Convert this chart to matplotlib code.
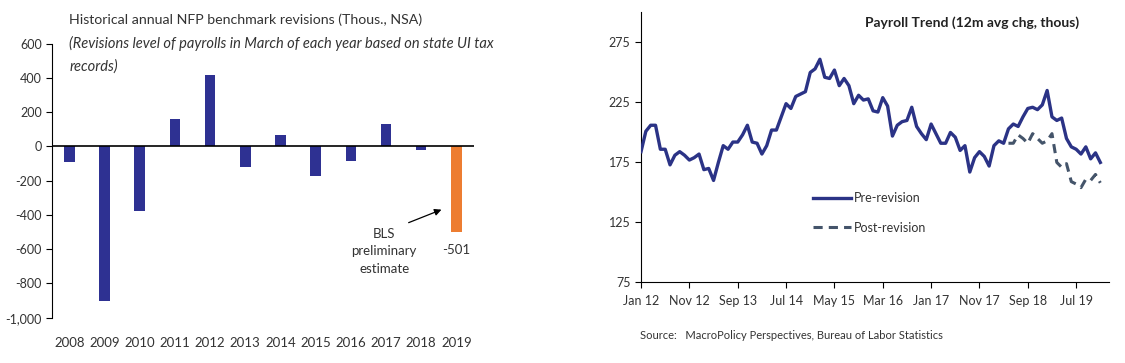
import matplotlib
matplotlib.use("Agg")
import matplotlib.pyplot as plt

plt.rcParams['font.family'] = ['Lato', 'DejaVu Sans']

# left panel: annual benchmark revisions (thous., NSA)
years = ['2008', '2009', '2010', '2011', '2012', '2013',
         '2014', '2015', '2016', '2017', '2018', '2019']
revisions = [-90, -902, -378, 162, 420, -120, 64, -171, -83, 133, -18, -501]

# right panel: 12m avg payroll change, Jan 12 .. Dec 19
pre_revision = [
    184, 201, 206, 206, 186, 186, 173, 181, 184, 181, 177, 179,
    182, 169, 170, 160, 175, 189, 186, 192, 192, 198, 206, 192,
    191, 182, 189, 202, 202, 213, 224, 220, 230, 232, 234, 250,
    253, 261, 246, 245, 252, 239, 245, 239, 224, 231, 227, 228,
    218, 217, 229, 222, 197, 206, 209, 210, 221, 205, 199, 194,
    207, 199, 191, 191, 200, 196, 185, 189, 167, 179, 184, 180,
    172, 189, 193, 191, 203, 207, 205, 213, 220, 221, 219, 223,
    235, 213, 210, 212, 195, 188, 186, 182, 188, 178, 183, 175,
]
post_start = 76
post_revision = [191, 191, 198, 195, 191, 199, 195, 191, 193, 199,
                 175, 171, 174, 159, 157, 154, 161, 160, 165, 158]
month_labels = ['Jan 12', 'Nov 12', 'Sep 13', 'Jul 14', 'May 15',
                'Mar 16', 'Jan 17', 'Nov 17', 'Sep 18', 'Jul 19']

txt = '#333333'
navy = '#2E3192'
orange = '#ED7D31'

fig = plt.figure(figsize=(11.25, 3.63), dpi=100)

# ---- left chart
ax1 = fig.add_axes([0.046, 0.1248, 0.3753, 0.7548])
xs = list(range(len(years)))
colors = [navy] * (len(years) - 1) + [orange]
ax1.bar(xs, revisions, width=0.3, color=colors, zorder=2)
ax1.axhline(0, color='black', lw=1.2, zorder=3)
ax1.set_xlim(-0.5, 11.5)
ax1.set_ylim(-1000, 600)
ax1.set_yticks(range(-1000, 601, 200))
ax1.set_yticklabels([f'{v:,}' for v in range(-1000, 601, 200)])
ax1.set_xticks(xs)
ax1.set_xticklabels(years)
for s in ['top', 'right', 'bottom']:
    ax1.spines[s].set_visible(False)
ax1.spines['left'].set_color('black')
ax1.tick_params(axis='y', direction='out', length=4, pad=3, labelsize=9, colors=txt)
ax1.tick_params(axis='y', color='black')
ax1.tick_params(axis='x', length=0, pad=14, labelsize=9.5, labelcolor=txt)

ax1.text(xs[-1], -607, '-501', ha='center', va='center', fontsize=9.5, color=txt)
ax1.annotate('', xy=(10.65, -363), xytext=(9.57, -451),
             arrowprops=dict(arrowstyle='-|>', color='black', lw=0.9,
                             mutation_scale=10))
ax1.text(8.95, -612, 'BLS\npreliminary\nestimate', ha='center', va='center',
         fontsize=9.5, color=txt, linespacing=1.55)

fig.text(0.0615, 0.9468, 'Historical annual NFP benchmark revisions (Thous., NSA)',
         fontsize=10.2, color=txt, va='center')
fig.text(0.0615, 0.8807,
         '(Revisions level of payrolls in March of each year based on state UI tax',
         fontsize=10.5, color=txt, va='center', style='italic')
fig.text(0.0615, 0.8164, 'records)', fontsize=10.5, color=txt, va='center',
         style='italic')

# ---- right chart
ax2 = fig.add_axes([0.5698, 0.222, 0.4160, 0.7436])
ax2.plot(range(len(pre_revision)), pre_revision, color='#2B3386', lw=2.4,
         label='Pre-revision', zorder=3, solid_joinstyle='round')
ax2.plot(range(post_start, post_start + len(post_revision)), post_revision,
         color='#44546A', lw=2.2, ls=(0, (3, 2)), label='Post-revision', zorder=4)
ax2.set_xlim(0, 96.8)
ax2.set_ylim(75, 300)
ax2.set_yticks([75, 125, 175, 225, 275])
ax2.set_xticks(range(0, 91, 10))
ax2.set_xticklabels(month_labels)
for s in ['top', 'right']:
    ax2.spines[s].set_visible(False)
ax2.tick_params(axis='both', direction='out', length=4, labelsize=9, labelcolor=txt)
ax2.tick_params(axis='x', pad=5)
ax2.legend(loc='upper left', bbox_to_anchor=(0.7227, 0.471),
           bbox_transform=fig.transFigure, frameon=False, fontsize=9,
           handlelength=3.0, handletextpad=0.3, labelspacing=1.4,
           borderaxespad=0, borderpad=0, labelcolor=txt)

fig.text(0.864, 0.9375, 'Payroll Trend (12m avg chg, thous)', fontsize=10,
         fontweight='bold', color='#222222', ha='center', va='center')
fig.text(0.569, 0.075, 'Source:   MacroPolicy Perspectives, Bureau of Labor Statistics',
         fontsize=8, color=txt, va='center')

fig.savefig('out.png', dpi=100)
